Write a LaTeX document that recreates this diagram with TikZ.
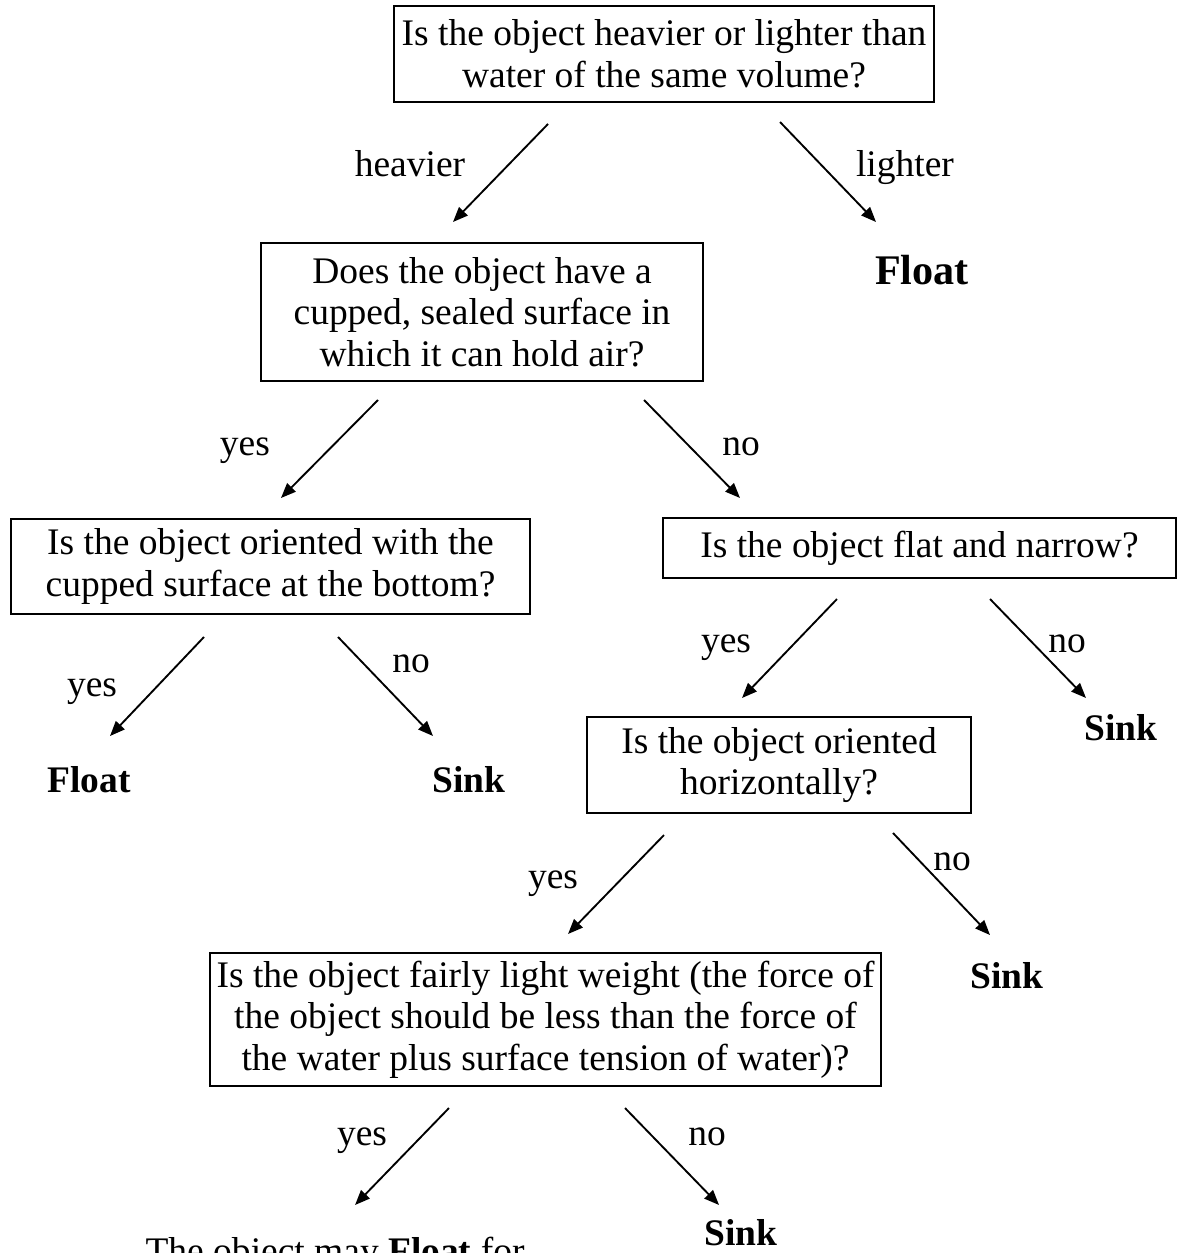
\documentclass[tikz,border=0pt]{standalone}
\usepackage{fontspec}
\setmainfont{Liberation Serif}
\usetikzlibrary{arrows.meta}
\tikzset{
  >={Triangle[length=4.8pt,width=3.8pt]},
  qbox/.style={draw,line width=0.6pt,align=center,inner sep=0pt,
    font=\fontsize{12}{13.3}\selectfont},
  word/.style={anchor=base,inner sep=0pt,font=\fontsize{12}{13.3}\selectfont},
  answer/.style={word,font=\fontsize{12}{13.3}\selectfont\bfseries},
  link/.style={->,line width=0.6pt},
}

\begin{document}
\begin{tikzpicture}
  \useasboundingbox (0,0) rectangle (13.2525,-14.096);
  % questions
  \node[qbox,minimum width=6.075cm,minimum height=1.08cm] (q1) at (7.47,-0.6075)
    {Is the object heavier or lighter than\\water of the same volume?};
  \node[qbox,minimum width=4.9725cm,minimum height=1.5525cm] (q2) at (5.4225,-3.51)
    {Does the object have a\\cupped, sealed surface in\\which it can hold air?};
  \node[qbox,minimum width=5.839cm,minimum height=1.069cm] (q3) at (3.043,-6.373)
    {Is the object oriented with the\\cupped surface at the bottom?};
  \node[qbox,minimum width=5.771cm,minimum height=0.675cm] (q4) at (10.344,-6.165)
    {Is the object flat and narrow?};
  \node[qbox,minimum width=4.32cm,minimum height=1.08cm] (q5) at (8.764,-8.606)
    {Is the object oriented\\horizontally?};
  \node[qbox,minimum width=7.549cm,minimum height=1.496cm] (q6) at (6.137,-11.469)
    {Is the object fairly light weight (the force of\\the object should be less than the force of\\the water plus surface tension of water)?};
  % answers
  \node[answer,font=\fontsize{13.5}{15}\selectfont\bfseries] (float1) at (10.3725,-3.195) {Float};
  \node[answer] (float2) at (1.001,-8.91) {Float};
  \node[answer] (sink1) at (5.276,-8.91) {Sink};
  \node[answer] (sink2) at (12.611,-8.325) {Sink};
  \node[answer] (sink3) at (11.329,-11.115) {Sink};
  \node[answer] (sink4) at (8.336,-14.006) {Sink};
  \node[word] (maybe) at (3.769,-14.209) {The object may \textbf{Float} for};
  % branch labels
  \node[word] (heavy) at (4.6125,-1.991) {heavier};
  \node[word] (light) at (10.181,-1.991) {lighter};
  \node[word] (y2) at (2.756,-5.119) {yes};
  \node[word] (n2) at (8.336,-5.119) {no};
  \node[word] (y3) at (1.035,-7.841) {yes};
  \node[word] (n3) at (4.624,-7.571) {no};
  \node[word] (y4) at (8.1675,-7.346) {yes};
  \node[word] (n4) at (12.004,-7.346) {no};
  \node[word] (y5) at (6.221,-9.99) {yes};
  \node[word] (n5) at (10.71,-9.7875) {no};
  \node[word] (y6) at (4.0725,-12.881) {yes};
  \node[word] (n6) at (7.954,-12.881) {no};
  % arrow ends
  \coordinate (s1) at (6.165,-1.395);   \coordinate (e1) at (5.096,-2.4975);
  \coordinate (s2) at (8.775,-1.3725);  \coordinate (e2) at (9.855,-2.4975);
  \coordinate (s3) at (4.2525,-4.5);    \coordinate (e3) at (3.161,-5.6025);
  \coordinate (s4) at (7.245,-4.5);     \coordinate (e4) at (8.325,-5.6025);
  \coordinate (s5) at (2.295,-7.166);   \coordinate (e5) at (1.2375,-8.28);
  \coordinate (s6) at (3.8025,-7.166);  \coordinate (e6) at (4.871,-8.28);
  \coordinate (s7) at (9.416,-6.739);   \coordinate (e7) at (8.3475,-7.8525);
  \coordinate (s8) at (11.1375,-6.739); \coordinate (e8) at (12.2175,-7.8525);
  \coordinate (s9) at (7.47,-9.394);    \coordinate (e9) at (6.39,-10.5075);
  \coordinate (s10) at (10.046,-9.371); \coordinate (e10) at (11.1375,-10.519);
  \coordinate (s11) at (5.051,-12.465); \coordinate (e11) at (3.994,-13.556);
  \coordinate (s12) at (7.031,-12.465); \coordinate (e12) at (8.089,-13.556);
  \foreach \i in {1,...,12}
    \draw[link] (s\i) -- (e\i);
\end{tikzpicture}
\end{document}
